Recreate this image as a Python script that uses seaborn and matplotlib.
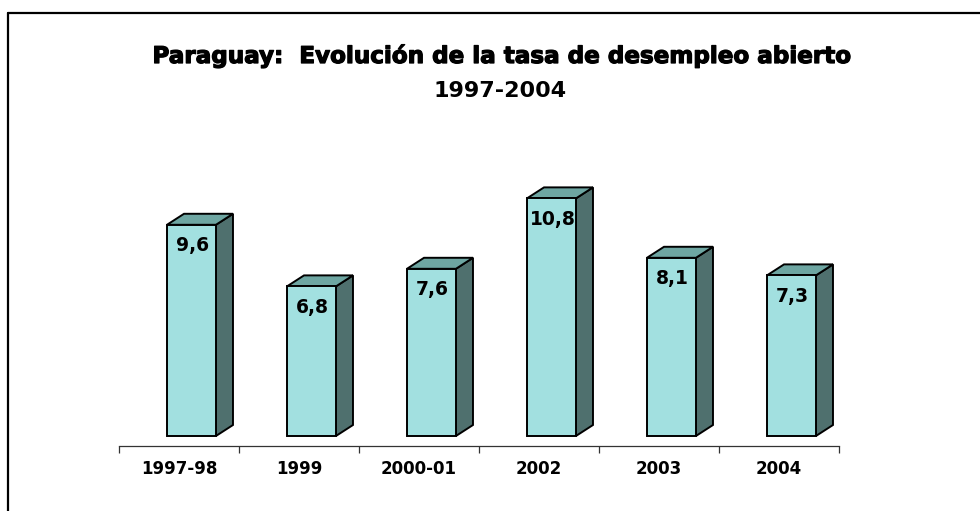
import numpy as np
import pandas as pd
import matplotlib
matplotlib.use("Agg")
import matplotlib.pyplot as plt
import matplotlib.patheffects as pe
import seaborn as sns
from matplotlib.patches import Polygon
from matplotlib.lines import Line2D

# -------------------------------
# Data
# -------------------------------
years = ["1997-98", "1999", "2000-01", "2002", "2003", "2004"]
tasa = [9.6, 6.8, 7.6, 10.8, 8.1, 7.3]
etiquetas = [f"{v:.1f}".replace(".", ",") for v in tasa]

df = pd.DataFrame({"periodo": years, "tasa": tasa})

# colours of the 3d faces
front_col = "#A2E0E0"
top_col = "#6EA6A2"
side_col = "#4F706E"

# depth of the fake 3d box (data units)
dx = 0.142
dy = 0.5
shift = 0.104

sns.set_style("white")
plt.rcParams["font.family"] = ["DejaVu Sans"]
plt.rcParams["text.color"] = "black"
plt.rcParams["xtick.color"] = "black"
plt.rcParams["xtick.labelcolor"] = "black"

fig = plt.figure(figsize=(9.8, 5.11), dpi=100)
ax = fig.add_axes([0.1214, 0.1272, 0.7347, 0.5793])

sns.barplot(data=df, x="periodo", y="tasa", width=0.408, color=front_col,
            saturation=1, edgecolor="black", linewidth=1.4, ax=ax, zorder=3)

# -------------------------------
# 3d faces + value labels
# -------------------------------
for p, lab in zip(ax.patches, etiquetas):
    x0 = p.get_x() + shift
    p.set_x(x0)
    w = p.get_width()
    h = p.get_height()
    x1 = x0 + w
    side = Polygon([(x1, 0), (x1 + dx, dy), (x1 + dx, h + dy), (x1, h)],
                   closed=True, facecolor=side_col, edgecolor="black", lw=1.4, zorder=2)
    top = Polygon([(x0, h), (x0 + dx, h + dy), (x1 + dx, h + dy), (x1, h)],
                  closed=True, facecolor=top_col, edgecolor="black", lw=1.4, zorder=2)
    ax.add_patch(side)
    ax.add_patch(top)
    ax.text(x0 + w / 2 + 0.01, h - 0.95, lab, ha="center", va="center",
            fontsize=13.5, fontweight="bold", color="black", zorder=5)

ax.set_xlim(-0.5, 5.5)
ax.set_ylim(-0.4545, 13.0)

# -------------------------------
# Axis styling
# -------------------------------
for s in ["top", "right", "left"]:
    ax.spines[s].set_visible(False)
ax.spines["bottom"].set_color("#333333")
ax.spines["bottom"].set_linewidth(0.9)
ax.set_yticks([])
ax.set_xlabel("")
ax.set_ylabel("")
ax.set_xticks(range(len(years)))
ax.set_xticklabels(years, fontsize=12, fontweight="bold", color="black")
ax.tick_params(axis="x", which="major", length=0, pad=10, bottom=True)
ax.set_xticks(np.arange(-0.5, 6.0, 1.0), minor=True)
ax.tick_params(axis="x", which="minor", length=5, width=0.9, direction="out",
               color="#333333", bottom=True)

# -------------------------------
# Title
# -------------------------------
fig.text(0.5102, 0.8904, "Paraguay:  Evolución de la tasa de desempleo abierto",
         ha="center", va="center", fontsize=16.6, fontweight="bold", color="black",
         path_effects=[pe.withStroke(linewidth=0.9, foreground="black")])
fig.text(0.5102, 0.822, "1997-2004", ha="center", va="center",
         fontsize=16, fontweight="bold", color="black")

# frame of the chart area (only top and left visible)
fig.add_artist(Line2D([8 / 980, 1.0], [1 - 13 / 511, 1 - 13 / 511],
                      transform=fig.transFigure, color="black", lw=1.6))
fig.add_artist(Line2D([8 / 980, 8 / 980], [1 - 13 / 511, 0.0],
                      transform=fig.transFigure, color="black", lw=1.6))

fig.savefig("out.png", dpi=100)
